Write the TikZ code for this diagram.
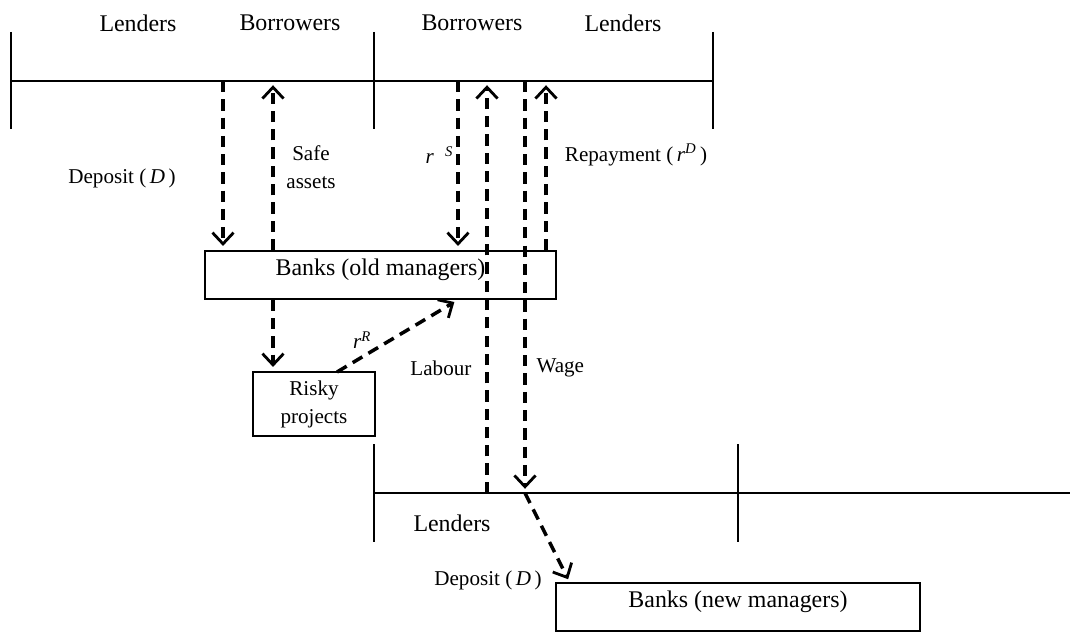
\documentclass[tikz,border=0pt]{standalone}
\usepackage{fontspec}
\setmainfont{Liberation Serif}
\usetikzlibrary{arrows.meta, positioning}

\tikzset{
  flow/.style={line width=2.5pt, dash pattern=on 8pt off 5pt, shorten >=3pt,
    -{Straight Barb[length=8pt,width=15pt,line width=2pt]}},
  box/.style={draw, line width=1.2pt, align=center},
  big/.style={font=\fontsize{17}{20}\selectfont},
  small/.style={font=\fontsize{15}{20}\selectfont, align=center},
}

\begin{document}
\begin{tikzpicture}[x=0.025cm, y=-0.025cm, line width=1.3pt]
\useasboundingbox (0,0) rectangle (1070,635);

% first period
\draw (11,81) -- (713,81);
\foreach \x in {11,374,713} \draw (\x,32) -- (\x,129);
\node[big] (lend1) at (138,23) {Lenders};
\node[big] (borr1) at (290,23) {Borrowers};
\node[big] (borr2) at (472,23) {Borrowers};
\node[big] (lend2) at (623,23) {Lenders};

% second period
\draw (374,493) -- (1070,493);
\foreach \x in {374,738} \draw (\x,444) -- (\x,542);
\node[big] (lend3) at (452,523) {Lenders};

% banks and projects
\node[box, big, minimum width=8.775cm, minimum height=1.2cm, inner ysep=0pt, text depth=11pt] (old) at (380.5,275) {Banks (old managers)};
\node[box, small, minimum width=3.05cm, minimum height=1.6cm] (risky) at (314,404) {Risky\\projects};
\node[box, big, minimum width=9.1cm, minimum height=1.2cm, inner ysep=0pt, text depth=11pt] (new) at (738,607) {Banks (new managers)};

% points on the time lines
\coordinate (dep) at (223,81);
\coordinate (safe) at (273,81);
\coordinate (rs) at (458,81);
\coordinate (lab) at (487,493);
\coordinate (wage) at (525,81);
\coordinate (wb) at (525,493);
\coordinate (rep) at (546,81);
\coordinate (rr) at (337,372);
\coordinate (nd) at (570,583);

% flows
\draw[flow] (dep) -- (dep |- old.north);
\draw[flow] (safe |- old.north) -- (safe);
\draw[flow] (safe |- old.south) -- (safe |- risky.north);
\draw[flow] (rr) -- (rs |- old.south);
\draw[flow] (rs) -- (rs |- old.north);
\draw[flow] (lab) -- (lab |- rs);
\draw[flow] (wage) -- (wb);
\draw[flow] (rep |- old.north) -- (rep);
\draw[flow] (wb) -- (nd);

% labels
\node[small] (deplab) at (122,178) {Deposit (\,\textit{D}\,)};
\node[small] (safelab) at (311,167) {Safe\\assets};
\node[small, anchor=west] (rslab) at (420,155) {\textit{r}\hspace{8pt}\textsuperscript{\textit{S}}};
\node[small] (replab) at (636,155) {Repayment (\,\textit{r}\textsuperscript{\textit{D}}\,)};
\node[small] (rrlab) at (362,340) {\textit{r}\textsuperscript{\textit{R}}};
\node[small, anchor=east] (lablab) at (477,368) {Labour};
\node[small, anchor=west] (wagelab) at (531,368) {Wage};
\node[small] (dep2lab) at (488,580) {Deposit (\,\textit{D}\,)};
\end{tikzpicture}
\end{document}
